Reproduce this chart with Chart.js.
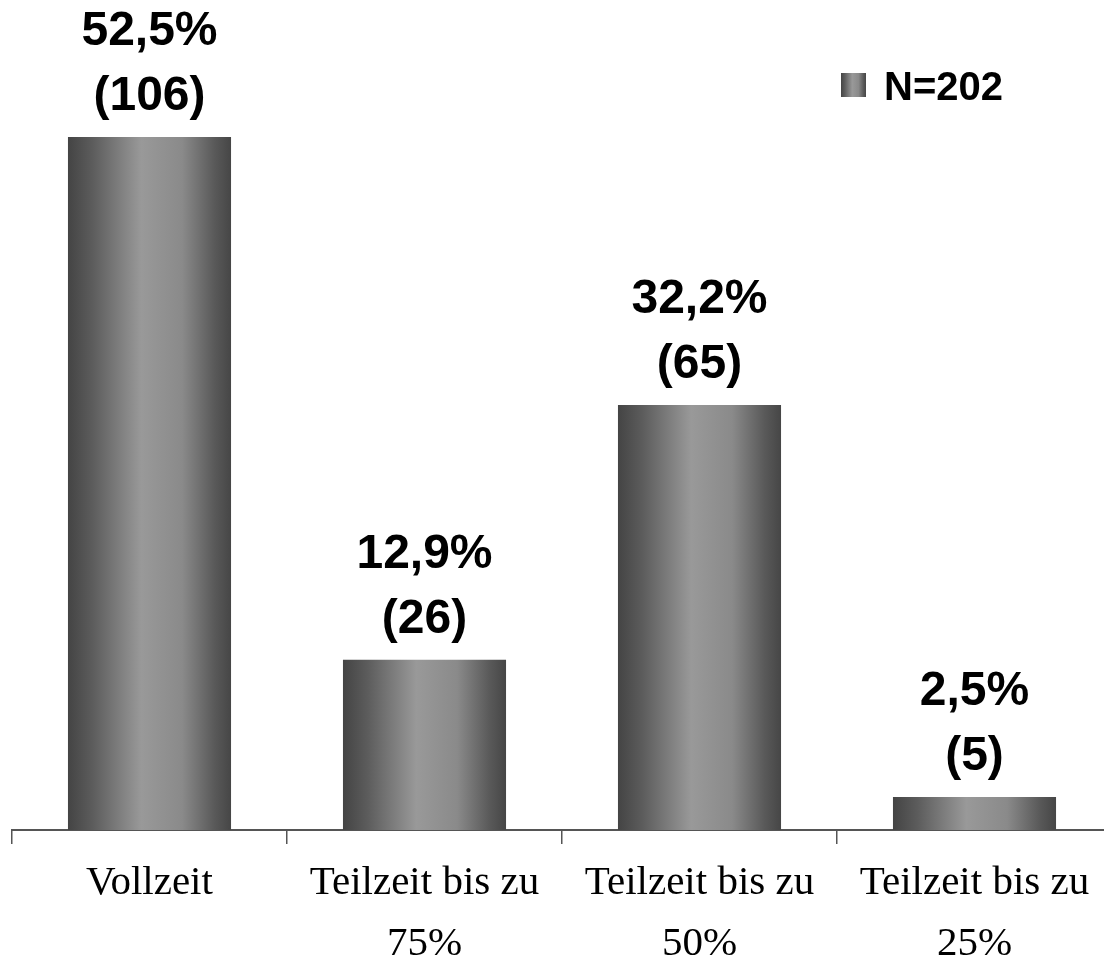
<!DOCTYPE html>
<html>
<head>
<meta charset="utf-8">
<script src="https://cdn.jsdelivr.net/npm/chart.js@4/dist/chart.umd.min.js"></script>
<style>
    html, body { margin: 0; padding: 0; background: #fff; overflow: hidden; }
    #wrap { width: 1120px; height: 957px; position: relative; }
</style>
</head>
<body>
<div id="wrap"><canvas id="chart"></canvas></div>
<script>
// Daten
const categories = [['Vollzeit'], ['Teilzeit bis zu', '75%'], ['Teilzeit bis zu', '50%'], ['Teilzeit bis zu', '25%']];
const percentValues = [52.5, 12.9, 32.2, 2.5];
const counts = [106, 26, 65, 5];
const seriesLabel = 'N=202';
const yMax = 60;
const barPct = 0.593;

const makeGradient = (ctx, x0, x1) => {
    const g = ctx.createLinearGradient(x0, 0, x1, 0);
    g.addColorStop(0, '#444444');
    g.addColorStop(0.15, '#5c5c5c');
    g.addColorStop(0.45, '#999999');
    g.addColorStop(0.7, '#8a8a8a');
    g.addColorStop(0.9, '#595959');
    g.addColorStop(1, '#464646');
    return g;
};

const fmt = v => v.toFixed(1).replace('.', ',') + '%';

// Verlauf pro Balken (über die x-Skala berechnet)
const barFill = c => {
    const chart = c.chart;
    const xs = chart.scales.x;
    if (!xs || !chart.chartArea) return '#777';
    const cx = xs.getPixelForValue(c.dataIndex);
    const w = (xs.width / categories.length) * barPct;
    return makeGradient(chart.ctx, cx - w / 2, cx + w / 2);
};

// Werte über den Balken
const valueLabels = {
    id: 'valueLabels',
    afterDatasetsDraw(chart) {
        const ctx = chart.ctx;
        ctx.save();
        ctx.fillStyle = '#000';
        ctx.font = 'bold 48px "Liberation Sans", Arial, sans-serif';
        ctx.textAlign = 'center';
        ctx.textBaseline = 'middle';
        chart.getDatasetMeta(0).data.forEach((bar, i) => {
            ctx.fillText('(' + counts[i] + ')', bar.x, bar.y - 40);
            ctx.fillText(fmt(percentValues[i]), bar.x, bar.y - 105);
        });
        ctx.restore();
    }
};

// Legende oben rechts
const legendBox = {
    id: 'legendBox',
    afterDraw(chart) {
        const ctx = chart.ctx;
        ctx.save();
        ctx.fillStyle = makeGradient(ctx, 841, 866);
        ctx.fillRect(841, 73, 25, 24);
        ctx.fillStyle = '#000';
        ctx.font = 'bold 40px "Liberation Sans", Arial, sans-serif';
        ctx.textAlign = 'left';
        ctx.textBaseline = 'middle';
        ctx.fillText(chart.data.datasets[0].label, 884, 89);
        ctx.restore();
    }
};

new Chart(document.getElementById('chart'), {
    type: 'bar',
    data: {
        labels: categories,
        datasets: [{
            label: seriesLabel,
            data: percentValues,
            backgroundColor: barFill,
            borderWidth: 0,
            categoryPercentage: 1,
            barPercentage: barPct
        }]
    },
    options: {
        responsive: true,
        maintainAspectRatio: false,
        animation: false,
        layout: { padding: { left: 12, right: 8, top: 38, bottom: 0 } },
        plugins: {
            legend: { display: false },
            tooltip: { enabled: false }
        },
        scales: {
            x: {
                offset: true,
                grid: { drawOnChartArea: false, color: '#555', lineWidth: 1.5, tickLength: 14, offset: true },
                border: { color: '#555', width: 2 },
                ticks: {
                    color: '#000',
                    font: { family: '"Liberation Serif", "Times New Roman", serif', size: 41, lineHeight: 1.5 },
                    padding: 8,
                    maxRotation: 0,
                    autoSkip: false
                },
                afterFit: s => { s.height = 127; }
            },
            y: {
                display: false,
                min: 0,
                max: yMax
            }
        }
    },
    plugins: [valueLabels, legendBox]
});
</script>
</body>
</html>
